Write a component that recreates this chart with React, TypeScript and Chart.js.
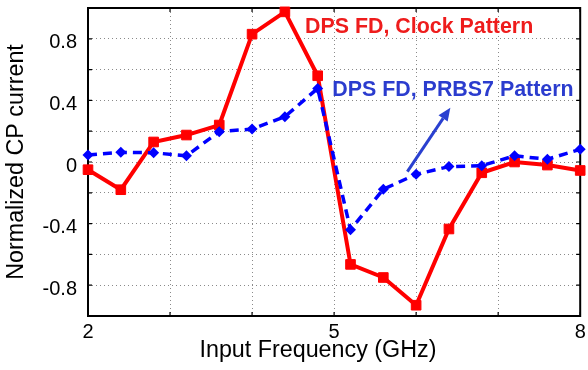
import React, { useEffect, useRef } from "react";
import { Chart, registerables } from "chart.js";

Chart.register(...registerables);

// ---- Data ----
const frequencyGHz = [2.0, 2.4, 2.8, 3.2, 3.6, 4.0, 4.4, 4.8, 5.2, 5.6, 6.0, 6.4, 6.8, 7.2, 7.6, 8.0];
const clockPattern = [-0.05, -0.18, 0.13, 0.175, 0.24, 0.83, 0.975, 0.56, -0.665, -0.75, -0.93, -0.435, -0.07, 0.0, -0.02, -0.055];
const prbs7Pattern = [0.045, 0.063, 0.06, 0.04, 0.197, 0.214, 0.294, 0.478, -0.44, -0.177, -0.08, -0.03, -0.024, 0.04, 0.018, 0.082];

const xTickLabels = [2, 5, 8];
const yTickLabels = [-0.8, -0.4, 0, 0.4, 0.8];

const clockLabel = "DPS FD, Clock Pattern";
const prbsLabel = "DPS FD, PRBS7 Pattern";
const xTitle = "Input Frequency (GHz)";
const yTitle = "Normalized CP current";

const FONT = "'Liberation Sans', Arial, Helvetica, sans-serif";

export default function App() {
  const ref = useRef<HTMLCanvasElement | null>(null);

  useEffect(() => {
    if (!ref.current) return;

    const framePlugin = {
      id: "frame",
      beforeDatasetsDraw(chart: any) {
        const { ctx, chartArea, scales } = chart;
        const { left, right, top, bottom } = chartArea;
        const xs = scales.x;
        const ys = scales.y;
        ctx.save();
        ctx.strokeStyle = "#000";
        ctx.lineWidth = 1.2;
        ctx.setLineDash([]);
        ctx.beginPath();
        for (const t of xs.ticks) {
          const px = xs.getPixelForValue(t.value);
          ctx.moveTo(px, bottom);
          ctx.lineTo(px, bottom - 4);
          ctx.moveTo(px, top);
          ctx.lineTo(px, top + 4);
        }
        for (const t of ys.ticks) {
          const py = ys.getPixelForValue(t.value);
          ctx.moveTo(left, py);
          ctx.lineTo(left + 4, py);
          ctx.moveTo(right, py);
          ctx.lineTo(right - 4, py);
        }
        ctx.stroke();
        ctx.lineWidth = 2;
        ctx.strokeRect(left, top, right - left, bottom - top);
        ctx.restore();
      },
    };

    const notesPlugin = {
      id: "notes",
      afterDatasetsDraw(chart: any) {
        const { ctx, scales } = chart;
        const xs = scales.x;
        const ys = scales.y;
        ctx.save();
        ctx.font = `bold 21.4px ${FONT}`;
        ctx.textAlign = "left";
        ctx.textBaseline = "middle";
        ctx.fillStyle = "#ee1c1c";
        ctx.fillText(clockLabel, xs.getPixelForValue(4.645), ys.getPixelForValue(0.873));
        ctx.fillStyle = "#2b3cce";
        ctx.fillText(prbsLabel, xs.getPixelForValue(4.978), ys.getPixelForValue(0.468));

        // arrow
        const x1 = xs.getPixelForValue(5.893);
        const y1 = ys.getPixelForValue(-0.063);
        const x2 = xs.getPixelForValue(6.417);
        const y2 = ys.getPixelForValue(0.353);
        const ang = Math.atan2(y2 - y1, x2 - x1);
        const headLen = 13;
        const headHalf = 5.5;
        const bx = x2 - headLen * Math.cos(ang);
        const by = y2 - headLen * Math.sin(ang);
        ctx.strokeStyle = "#2a40d0";
        ctx.fillStyle = "#2a40d0";
        ctx.lineWidth = 3;
        ctx.beginPath();
        ctx.moveTo(x1, y1);
        ctx.lineTo(bx, by);
        ctx.stroke();
        ctx.beginPath();
        ctx.moveTo(x2, y2);
        ctx.lineTo(bx + headHalf * Math.sin(ang), by - headHalf * Math.cos(ang));
        ctx.lineTo(bx - headHalf * Math.sin(ang), by + headHalf * Math.cos(ang));
        ctx.closePath();
        ctx.fill();
        ctx.restore();
      },
    };

    const chart = new Chart(ref.current, {
      type: "line",
      data: {
        datasets: [
          {
            label: prbsLabel,
            data: frequencyGHz.map((f, i) => ({ x: f, y: prbs7Pattern[i] })),
            borderColor: "#0000ff",
            backgroundColor: "#0000ff",
            borderWidth: 3.5,
            borderDash: [9, 6],
            pointStyle: "rectRot",
            pointRadius: 5.5,
            pointBorderWidth: 0,
            pointBackgroundColor: "#0000ff",
            tension: 0,
            clip: false,
            order: 0,
          },
          {
            label: clockLabel,
            data: frequencyGHz.map((f, i) => ({ x: f, y: clockPattern[i] })),
            borderColor: "#ff0000",
            backgroundColor: "#ff0000",
            borderWidth: 4,
            pointStyle: "rect",
            pointRadius: 6.8,
            pointBorderWidth: 1,
            pointBorderColor: "#ff0000",
            pointBackgroundColor: "#ff0000",
            tension: 0,
            clip: false,
            order: 1,
          },
        ],
      },
      options: {
        animation: false,
        responsive: true,
        maintainAspectRatio: false,
        layout: { padding: { top: 8, right: 4, left: 0, bottom: 0 } },
        plugins: {
          legend: { display: false },
          tooltip: { enabled: false },
        },
        scales: {
          x: {
            type: "linear",
            min: 2,
            max: 8,
            ticks: {
              stepSize: 1,
              autoSkip: false,
              maxRotation: 0,
              padding: 4,
              color: "#000",
              font: { family: FONT, size: 20 },
              callback: (v: any) => {
                const r = Math.round(Number(v));
                return Math.abs(Number(v) - r) < 1e-6 && xTickLabels.includes(r) ? String(r) : "";
              },
            },
            grid: { color: "#8a8a8a", lineWidth: 1, drawTicks: false },
            border: { display: false, dash: [1, 3] },
            title: {
              display: true,
              text: xTitle + "\u00a0\u00a0\u00a0\u00a0\u00a0",
              color: "#000",
              font: { family: FONT, size: 23.3 },
              padding: { top: 0, bottom: 5 },
            },
            afterFit: (s: any) => {
              s.height = 54;
              s.paddingLeft = 0;
              s.paddingRight = 0;
            },
          },
          y: {
            type: "linear",
            min: -1,
            max: 1,
            ticks: {
              stepSize: 0.2,
              autoSkip: false,
              padding: 11,
              labelOffset: 4,
              color: "#000",
              font: { family: FONT, size: 20 },
              callback: (v: any) => {
                const t = Math.round(Number(v) * 10) / 10;
                return yTickLabels.some((l) => Math.abs(l - t) < 1e-6) ? String(t === 0 ? 0 : t) : "";
              },
            },
            grid: { color: "#8a8a8a", lineWidth: 1, drawTicks: false },
            border: { display: false, dash: [1, 3] },
            title: {
              display: true,
              text: yTitle,
              color: "#000",
              font: { family: FONT, size: 23.3 },
              padding: { top: 3, bottom: 0 },
            },
            afterFit: (s: any) => {
              s.width = 88;
              s.paddingTop = 0;
              s.paddingBottom = 0;
            },
          },
        },
      },
      plugins: [framePlugin, notesPlugin],
    } as any);

    return () => chart.destroy();
  }, []);

  return (
    <div style={{ position: "fixed", left: 0, top: 0, width: 588, height: 370, background: "#fff" }}>
      <canvas ref={ref} />
    </div>
  );
}
